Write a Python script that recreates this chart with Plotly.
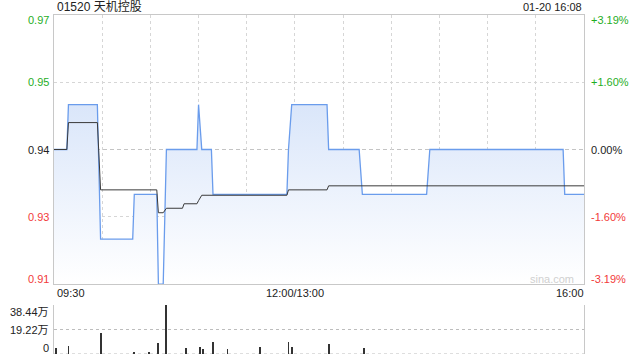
import plotly.graph_objects as go

# ---------------- data ----------------
stock_title = "01520 天机控股"
stamp = "01-20 16:08"
prev_close = 0.94
pct_range = 0.0319

price_times = ["09:30", "09:38", "09:39", "09:57", "09:59", "10:19", "10:20", "10:34", "10:35", "10:38",
               "10:40", "10:59", "11:00", "11:02", "11:08", "11:09", "11:55", "11:56", "11:58", "13:20",
               "13:21", "13:40", "13:42", "14:22", "14:24", "15:47", "15:48", "16:00"]
price_vals = [0.94, 0.94, 0.95, 0.95, 0.92, 0.92, 0.93, 0.93, 0.91, 0.91,
              0.94, 0.94, 0.95, 0.94, 0.94, 0.93, 0.93, 0.94, 0.95, 0.95,
              0.94, 0.94, 0.93, 0.93, 0.94, 0.94, 0.93, 0.93]

avg_times = ["09:30", "09:38", "09:39", "09:57", "09:59", "10:34", "10:35", "10:38", "10:40", "10:50",
             "10:51", "10:59", "11:00", "11:02", "11:55", "11:56", "13:20", "13:21", "16:00"]
avg_vals = [0.94, 0.94, 0.946, 0.946, 0.931, 0.931, 0.9259, 0.9259, 0.9269, 0.9269,
            0.9279, 0.9279, 0.9286, 0.9298, 0.9298, 0.931, 0.931, 0.9319, 0.9319]

vol_times = ["09:31", "09:39", "09:59", "10:20", "10:29", "10:35", "10:40", "10:52", "11:01", "11:03",
             "11:09", "11:18", "11:38", "11:56", "11:58", "13:21", "13:43"]
vol_vals = [4.5, 6.3, 16.7, 0.8, 0.8, 8.9, 38.44, 4.7, 5.5, 3.7,
            9.4, 3.9, 5.5, 9.4, 5.8, 7.8, 4.7]  # 万

left_labels = ["0.97", "0.95", "0.94", "0.93", "0.91"]
right_labels = ["+3.19%", "+1.60%", "0.00%", "-1.60%", "-3.19%"]
label_pct = [0.0319, 0.016, 0.0, -0.016, -0.0319]
vol_labels = ["38.44万", "19.22万", "0"]
vol_ticks = [38.44, 19.22, 0]
x_labels = ["09:30", "12:00/13:00", "16:00"]
x_label_times = ["09:30", "12:00", "16:00"]
grid_times = ["10:00", "10:30", "11:00", "11:30", "12:00", "13:30", "14:00", "14:30", "15:00", "15:30"]


def tmin(t):
    h, m = map(int, t.split(":"))
    v = h * 60 + m - 570
    if v > 150:
        v -= 60
    return v


px = [tmin(t) for t in price_times]
ax = [tmin(t) for t in avg_times]
vx = [tmin(t) for t in vol_times]

ylo = prev_close * (1 - pct_range)
yhi = prev_close * (1 + pct_range)

GREEN = "#1fae1f"
RED = "#f23a3a"
DARK = "#222222"
BORDER = "#c8c8c8"
GRID = "#d6d6d6"
FONT = "Liberation Sans, Noto Sans CJK SC, sans-serif"

# ---------------- layout geometry ----------------
W, H = 640, 360
ML, MR, MT, MB = 54, 56, 15, 6
PW = W - ML - MR
PH = H - MT - MB


def yp(pix):
    return (H - MB - pix) / PH


def xp(pix):
    return (pix - ML) / PW


price_dom = [yp(284), 1.0]
vol_dom = [0.0, yp(305)]

fig = go.Figure()

fig.add_trace(go.Scatter(
    x=px, y=price_vals, mode="lines",
    line=dict(color="#6a9cec", width=1.3),
    fill="tozeroy",
    fillgradient=dict(type="vertical",
                      colorscale=[[0, "rgba(255,255,255,1)"], [1, "rgba(218,230,250,1)"]],
                      start=ylo, stop=0.95),
    xaxis="x", yaxis="y", hoverinfo="skip", showlegend=False,
))
fig.add_trace(go.Scatter(
    x=ax, y=avg_vals, mode="lines",
    line=dict(color="#3a3a3a", width=1),
    xaxis="x", yaxis="y", hoverinfo="skip", showlegend=False,
))
fig.add_trace(go.Bar(
    x=vx, y=vol_vals, width=0.55,
    marker=dict(color="#333333", line=dict(width=0)),
    xaxis="x2", yaxis="y2", hoverinfo="skip", showlegend=False,
))

# dashed previous-close line
fig.add_shape(type="line", xref="x", yref="y", x0=0, x1=330, y0=prev_close, y1=prev_close,
              line=dict(color="#c4c4c4", width=1, dash="4px,3px"), layer="below")
# dotted volume baseline
fig.add_shape(type="line", xref="x2", yref="y2", x0=0, x1=330, y0=0, y1=0,
              line=dict(color="#bdbdbd", width=1, dash="dot"), layer="below")

annotations = []
# title & stamp
annotations.append(dict(text=stock_title, x=xp(55), y=yp(7), xref="paper", yref="paper",
                        xanchor="left", yanchor="middle", showarrow=False,
                        font=dict(size=12, color="#222", family=FONT)))
annotations.append(dict(text=stamp, x=xp(584), y=yp(7), xref="paper", yref="paper",
                        xanchor="right", yanchor="middle", showarrow=False,
                        font=dict(size=11, color="#222", family=FONT)))

# price labels
for lab, rl, p in zip(left_labels, right_labels, label_pct):
    pix = 149.5 - p * prev_close * (269 / (yhi - ylo))
    if pix < 20:
        pix = 20.5
    if pix > 278:
        pix = 278.5
    col = GREEN if p > 0 else (RED if p < 0 else DARK)
    annotations.append(dict(text=lab, x=xp(51), y=yp(pix), xref="paper", yref="paper",
                            xanchor="right", yanchor="middle", showarrow=False,
                            font=dict(size=11, color=col, family=FONT)))
    annotations.append(dict(text=rl, x=xp(589), y=yp(pix), xref="paper", yref="paper",
                            xanchor="left", yanchor="middle", showarrow=False,
                            font=dict(size=11, color=col, family=FONT)))

# x labels
for lab, t in zip(x_labels, x_label_times):
    m = tmin(t)
    if m == 0:
        anchor, xx = "left", xp(55)
    elif m == 330:
        anchor, xx = "right", xp(586)
    else:
        anchor, xx = "center", (m / 330)
    annotations.append(dict(text=lab, x=xx, y=yp(293), xref="paper", yref="paper",
                            xanchor=anchor, yanchor="middle", showarrow=False,
                            font=dict(size=11, color=DARK, family=FONT)))

# volume labels
for lab, pix in zip(vol_labels, [312, 330, 348]):
    annotations.append(dict(text=lab, x=xp(51), y=yp(pix), xref="paper", yref="paper",
                            xanchor="right", yanchor="middle", showarrow=False,
                            font=dict(size=11, color=DARK, family=FONT)))

# watermark
annotations.append(dict(text="sina.com", x=xp(552), y=yp(279), xref="paper", yref="paper",
                        xanchor="center", yanchor="middle", showarrow=False,
                        font=dict(size=11, color="#d0d0d0", family=FONT)))

fig.update_layout(
    width=W, height=H,
    margin=dict(l=ML, r=MR, t=MT, b=MB),
    paper_bgcolor="white", plot_bgcolor="white",
    annotations=annotations,
    bargap=0,
    xaxis=dict(domain=[0, 1], range=[0, 330], anchor="y",
               tickvals=[tmin(t) for t in grid_times], showticklabels=False, ticks="",
               showgrid=True, gridcolor=GRID, griddash="dot", gridwidth=1,
               showline=True, linecolor=BORDER, linewidth=1, mirror=True, zeroline=False),
    yaxis=dict(domain=price_dom, range=[ylo, yhi], anchor="x",
               tickvals=[prev_close * 1.016, prev_close * 0.984], showticklabels=False, ticks="",
               showgrid=True, gridcolor=GRID, griddash="dot", gridwidth=1,
               showline=True, linecolor=BORDER, linewidth=1, mirror=True, zeroline=False),
    xaxis2=dict(domain=[0, 1], range=[0, 330], anchor="y2",
                showticklabels=False, ticks="", showgrid=False, showline=False, zeroline=False),
    yaxis2=dict(domain=vol_dom, range=[0, 38.44], anchor="x2",
                tickvals=vol_ticks, showticklabels=False, ticks="",
                showgrid=True, gridcolor="#bdbdbd", griddash="dot", gridwidth=1,
                showline=True, linecolor=BORDER, linewidth=1, mirror=True, zeroline=False),
)

fig.write_html("out.html")
